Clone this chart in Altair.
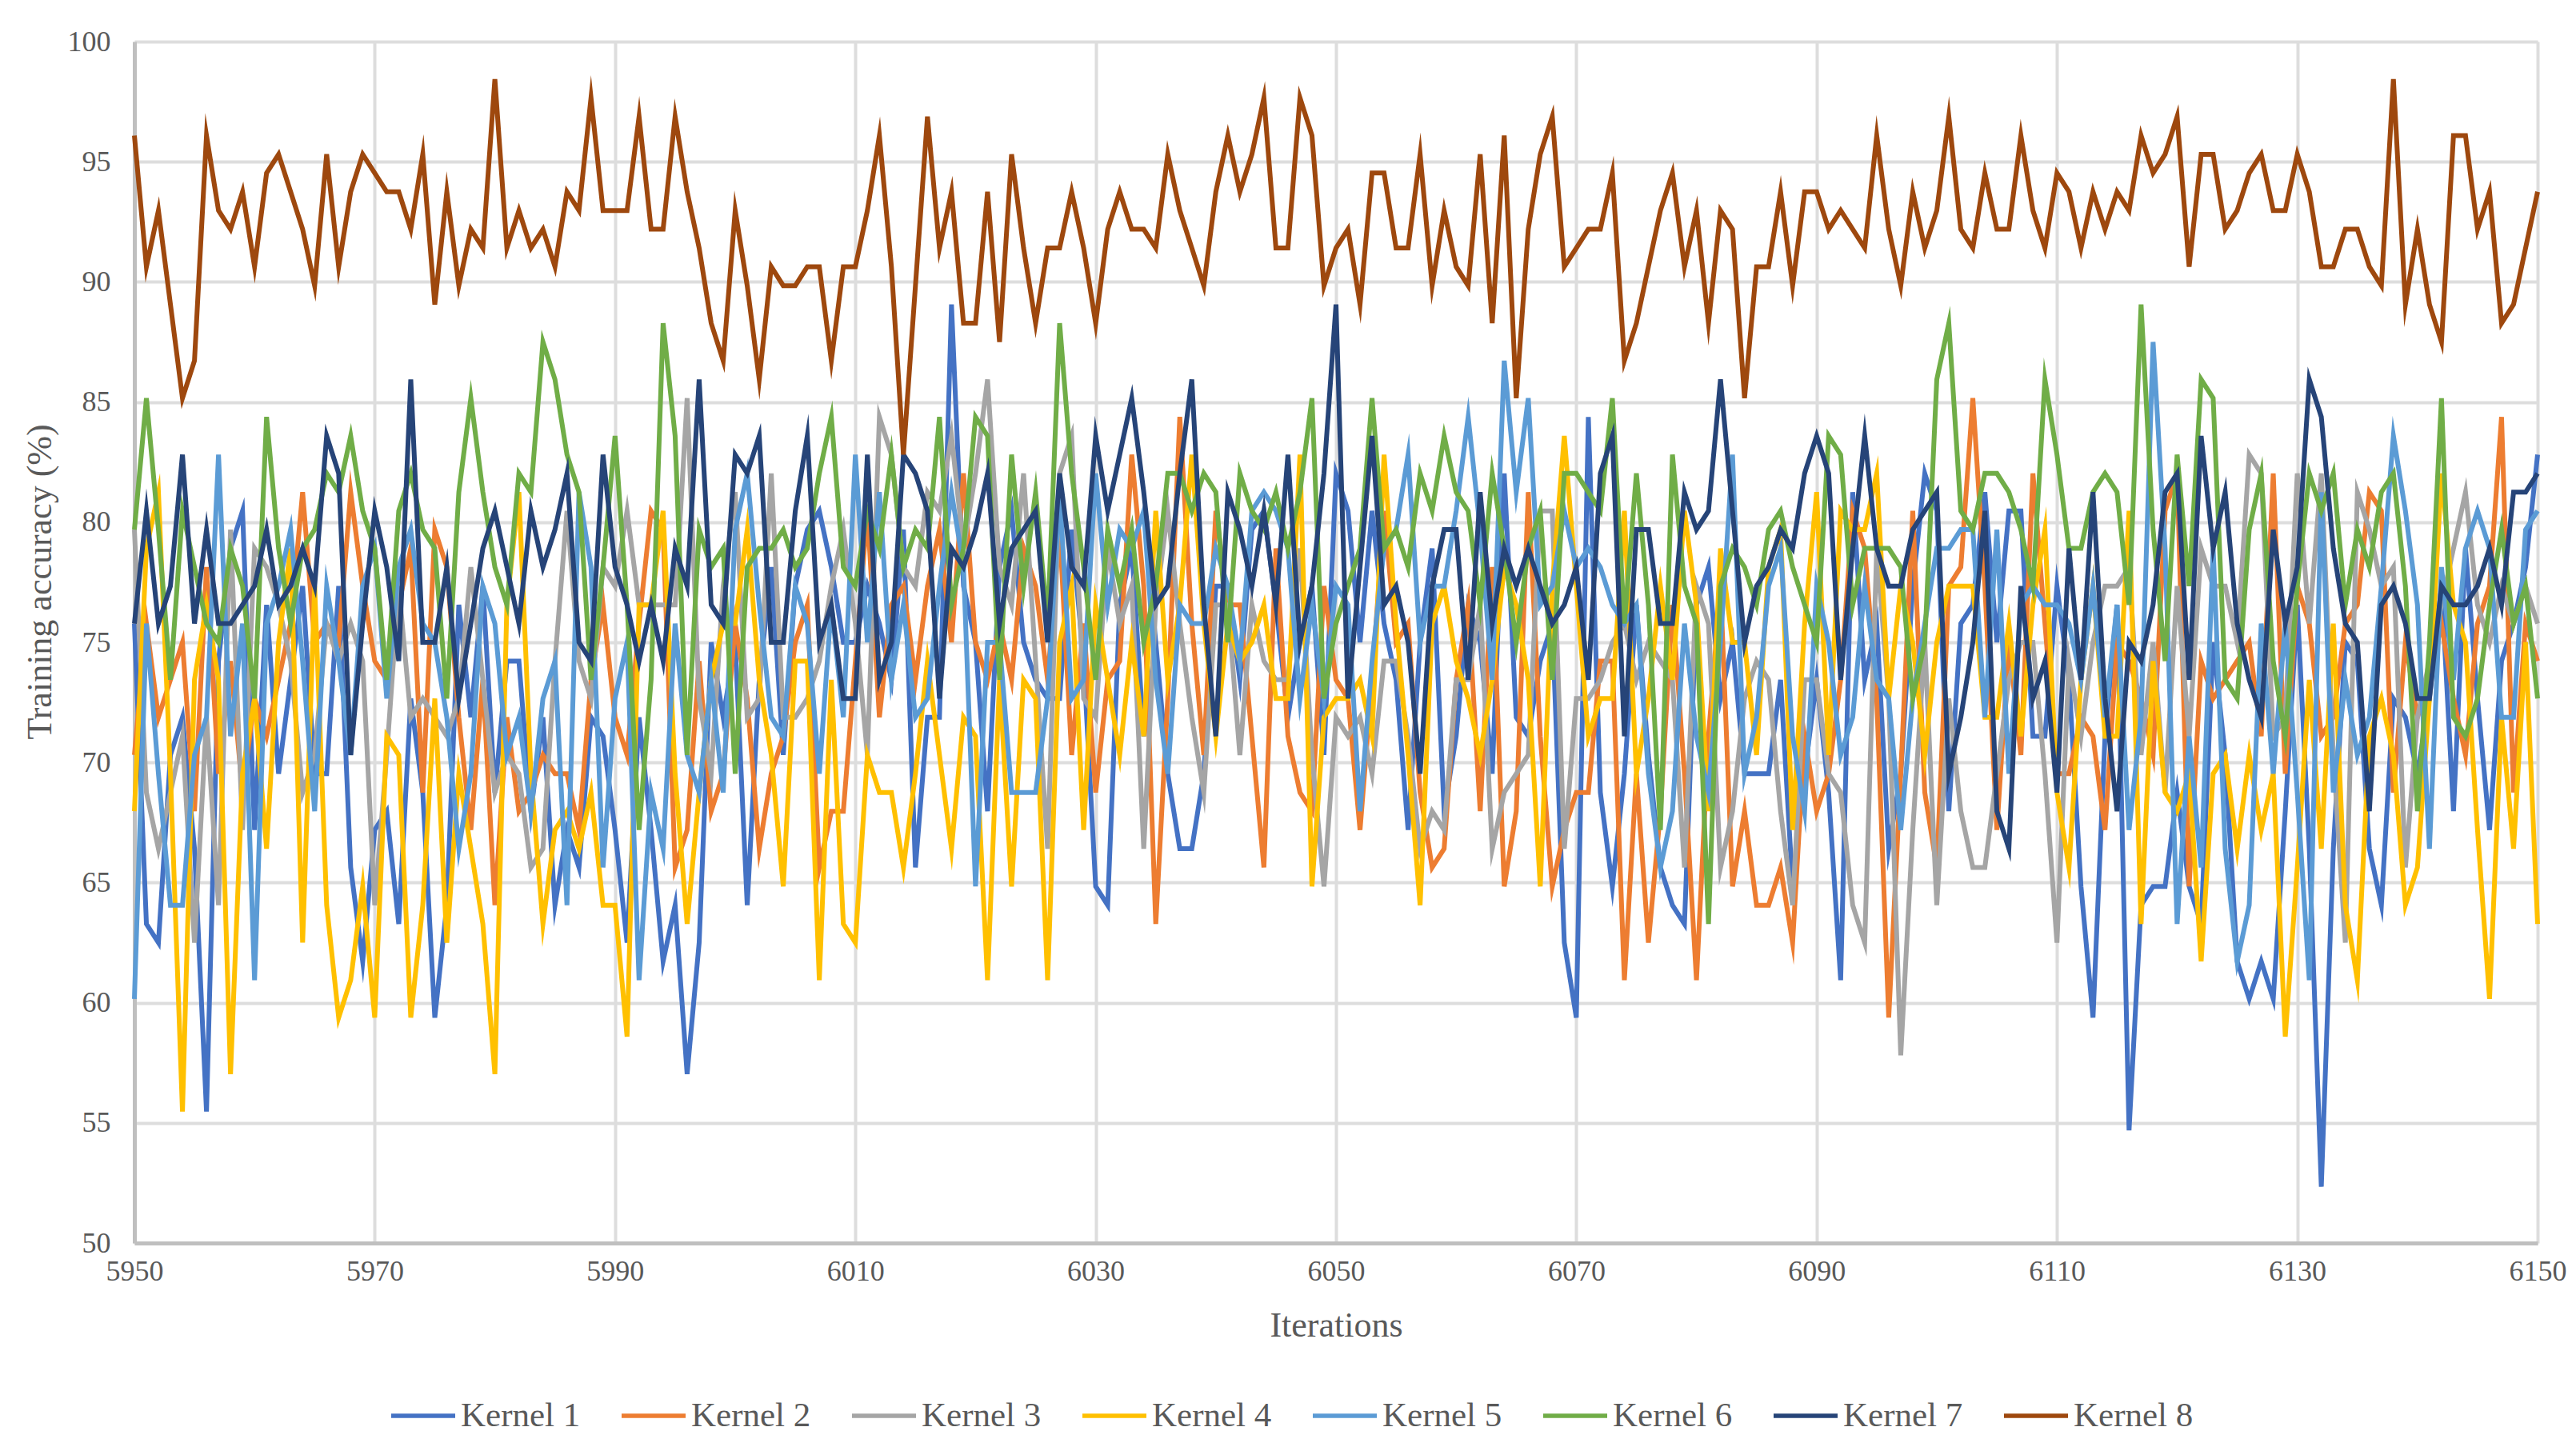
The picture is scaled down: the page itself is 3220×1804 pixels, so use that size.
import altair as alt
import pandas as pd

START = 5950
NAMES = ["Kernel 1", "Kernel 2", "Kernel 3", "Kernel 4", "Kernel 5", "Kernel 6", "Kernel 7", "Kernel 8"]
COLORS = ["#4472C4", "#ED7D31", "#A5A5A5", "#FFC000", "#5B9BD5", "#70AD47", "#264478", "#9E480E"]
X_TICKS = [5950, 5970, 5990, 6010, 6030, 6050, 6070, 6090, 6110, 6130, 6150]
Y_TICKS = [50, 55, 60, 65, 70, 75, 80, 85, 90, 95, 100]

K1 = [75.78,63.28,62.5,70.31,71.88,66.41,55.47,74.22,78.91,80.47,
67.19,76.56,69.53,73.44,77.34,69.53,69.53,77.34,65.63,61.72,
67.19,67.97,63.28,72.66,68.75,59.38,64.06,76.56,71.88,77.34,
68.75,74.22,74.22,67.97,71.88,64.06,67.19,65.63,71.88,71.09,
67.19,62.5,71.88,67.19,61.72,64.06,57.03,62.5,75,71.88,
75,64.06,73.44,78.13,70.31,77.34,79.69,80.47,78.13,75,
75,77.34,75.78,73.44,79.69,65.63,71.88,71.88,89.06,77.34,
75,67.97,78.13,80.47,75,73.44,72.66,72.66,79.69,74.22,
64.84,64.06,76.56,78.91,71.09,75,69.53,66.41,66.41,69.53,
77.34,77.34,73.44,79.69,80.47,76.56,71.88,75,77.34,70.31,
82.03,80.47,75,80.47,75.78,73.44,67.19,75,78.91,67.97,
71.09,76.56,75,69.53,82.03,71.88,71.09,74.22,75.78,62.5,
59.38,84.38,68.75,64.84,69.53,76.56,70.31,65.63,64.06,63.28,
76.56,78.13,72.66,75,69.53,69.53,69.53,73.44,64.84,69.53,
73.44,68.75,60.94,81.25,73.44,75.78,66.41,69.53,77.34,82.03,
80.47,67.97,75.78,76.56,81.25,75,80.47,80.47,71.09,71.09,
77.34,73.44,64.84,59.38,71.09,76.56,54.69,64.06,64.84,64.84,
68.75,64.84,63.28,75,70.31,61.72,60.16,61.72,60.16,67.97,
76.56,66.41,52.34,66.41,75,74.22,66.41,64.06,72.66,71.88,
69.53,72.66,77.34,67.97,78.91,72.66,67.19,74.22,75.78,78.13,82.81]

K2 = [70.31,75.78,71.88,73.44,75,67.97,78.13,69.53,74.22,68.75,
72.66,71.09,73.44,75.78,81.25,75,75.78,75,81.25,77.34,
74.22,73.44,76.56,78.91,68.75,79.69,78.13,71.88,67.19,73.44,
64.06,71.88,67.97,68.75,70.31,69.53,69.53,67.19,73.44,76.56,
71.88,70.31,75.78,80.47,79.69,65.63,67.19,74.22,67.97,69.53,
75.78,72.66,66.41,69.53,71.09,75,76.56,65.63,67.97,67.97,
74.22,80.47,71.88,76.56,77.34,73.44,77.34,79.69,75,82.03,
75,73.44,75.78,73.44,78.91,77.34,73.44,79.69,70.31,75.78,
68.75,73.44,74.22,82.81,77.34,63.28,72.66,84.38,75.78,70.31,
80.47,76.56,76.56,71.09,65.63,78.91,71.09,68.75,67.97,77.34,
73.44,72.66,67.19,73.44,80.47,75,75.78,68.75,65.63,66.41,
73.44,76.56,67.97,78.13,64.84,67.97,81.25,71.09,64.84,67.19,
68.75,68.75,74.22,74.22,60.94,69.53,62.5,67.97,76.56,69.53,
60.94,71.09,77.34,64.84,67.97,64.06,64.06,65.63,62.5,71.09,
67.97,69.53,73.44,80.47,78.91,72.66,59.38,69.53,80.47,68.75,
65.63,77.34,78.13,85.16,77.34,67.19,75,70.31,82.03,75.78,
69.53,69.53,71.88,71.09,67.19,75,74.22,72.66,70.31,80.47,
82.03,64.84,74.22,72.66,73.44,74.22,75,71.09,82.03,69.53,
77.34,75.78,71.09,71.88,75.78,76.56,81.25,80.47,68.75,75,
71.88,73.44,75.78,72.66,70.31,75.78,77.34,84.38,68.75,75.78,74.22]

K3 = [79.69,68.75,66.41,68.75,71.09,62.5,71.88,64.06,79.69,67.19,
78.91,78.13,76.56,74.22,68.75,70.31,75.78,74.22,75.78,74.22,
64.06,70.31,77.34,71.88,72.66,71.88,71.09,72.66,78.13,73.44,
68.75,70.31,69.53,65.63,66.41,74.22,80.47,74.22,72.66,78.13,
77.34,80.47,76.56,76.56,76.56,76.56,85.16,72.66,69.53,77.34,
81.25,71.88,72.66,82.03,71.88,71.88,72.66,74.22,77.34,79.69,
75.78,70.31,84.38,82.81,78.13,77.34,81.25,80.47,83.59,78.91,
82.03,85.94,78.13,76.56,82.03,74.22,66.41,82.03,83.59,72.66,
71.88,78.91,75.78,77.34,66.41,76.56,80.47,75.78,71.88,68.75,
76.56,76.56,70.31,76.56,74.22,73.44,73.44,78.91,70.31,64.84,
71.88,71.09,71.88,69.53,74.22,74.22,71.09,66.41,67.97,67.19,
73.44,73.44,76.56,66.41,68.75,69.53,70.31,80.47,80.47,66.41,
72.66,72.66,73.44,75,75.78,73.44,75,74.22,73.44,65.63,
77.34,75.78,65.63,67.97,72.66,74.22,73.44,67.97,64.06,73.44,
73.44,69.53,68.75,64.06,62.5,78.91,72.66,57.81,67.19,75,
64.06,72.66,67.97,65.63,65.63,69.53,73.44,75,75,69.53,
62.5,74.22,71.09,75,77.34,77.34,78.13,70.31,75,68.75,
77.34,71.09,78.91,77.34,77.34,75,82.81,82.03,71.09,71.88,
82.03,75.78,82.03,70.31,62.5,81.25,79.69,77.34,78.13,65.63,
71.88,74.22,76.56,78.91,81.25,76.56,75,77.34,75.78,77.34,75.78]

K4 = [67.97,78.91,81.25,69.53,55.47,73.44,76.56,73.44,57.03,69.53,
72.66,66.41,75,78.91,62.5,77.34,64.06,59.38,60.94,64.84,
59.38,71.09,70.31,59.38,64.06,72.66,62.5,69.53,66.41,63.28,
57.03,76.56,81.25,69.53,63.28,67.19,67.97,66.41,68.75,64.06,
64.06,58.59,76.56,76.56,80.47,69.53,63.28,68.75,73.44,75.78,
75.78,79.69,73.44,70.31,64.84,74.22,74.22,60.94,73.44,63.28,
62.5,70.31,68.75,68.75,65.63,69.53,74.22,70.31,66.41,71.88,
71.09,60.94,73.44,64.84,73.44,72.66,60.94,75,77.34,67.19,
76.56,73.44,70.31,75,71.09,80.47,73.44,76.56,82.81,75.78,
71.09,75.78,74.22,75,76.56,72.66,72.66,82.81,64.84,71.88,
72.66,72.66,73.44,71.09,82.81,75.78,70.31,64.06,75.78,77.34,
74.22,72.66,70.31,73.44,78.13,76.56,73.44,64.84,77.34,83.59,
77.34,71.09,72.66,72.66,80.47,69.53,72.66,77.34,73.44,80.47,
76.56,67.97,78.91,75,75,70.31,78.13,79.69,67.19,75.78,
81.25,70.31,80.47,79.69,79.69,82.03,72.66,77.34,75,70.31,
75,77.34,77.34,77.34,71.88,71.88,75.78,71.09,76.56,79.69,
68.75,65.63,73.44,77.34,71.09,71.09,80.47,63.28,74.22,68.75,
67.97,69.53,61.72,69.53,70.31,66.41,70.31,67.19,69.53,58.59,
65.63,73.44,66.41,75.78,64.06,60.94,71.09,72.66,70.31,64.06,
65.63,72.66,82.03,76.56,75,67.19,60.16,71.88,66.41,75,63.28]

K5 = [60.16,75.78,69.53,64.06,64.06,70.31,71.88,82.81,71.09,75.78,
60.94,75.78,77.34,79.69,74.22,67.97,77.34,74.22,70.31,77.34,
78.91,72.66,78.13,79.69,75.78,75,71.88,66.41,69.53,77.34,
75.78,70.31,71.88,67.97,72.66,74.22,64.06,81.25,78.13,65.63,
72.66,75,60.94,68.75,66.41,75.78,70.31,68.75,73.44,68.75,
79.69,82.03,76.56,71.88,71.09,77.34,75.78,69.53,76.56,71.88,
82.81,75,81.25,73.44,76.56,71.88,72.66,77.34,81.25,78.13,
64.84,75,75,68.75,68.75,68.75,72.66,81.25,72.66,73.44,
82.03,76.56,79.69,78.91,80.47,73.44,69.53,76.56,75.78,75.78,
78.91,77.34,74.22,80.47,81.25,80.47,78.91,72.66,76.56,72.66,
77.34,76.56,67.97,74.22,78.91,79.69,82.81,75,77.34,77.34,
80.47,84.38,79.69,73.44,86.72,81.25,85.16,76.56,77.34,80.47,
78.13,78.91,78.13,76.56,75.78,76.56,69.53,65.63,67.97,75.78,
71.09,68.75,75,82.81,69.53,71.88,77.34,78.91,71.09,67.97,
77.34,75,70.31,71.88,77.34,73.44,72.66,67.19,72.66,75.78,
78.91,78.91,79.69,79.69,71.88,79.69,69.53,76.56,77.34,76.56,
76.56,75.78,73.44,77.34,71.88,76.56,67.19,71.88,87.5,78.91,
63.28,71.09,65.63,78.91,66.41,61.72,64.06,75.78,69.53,75.78,
68.75,60.94,81.25,68.75,73.44,70.31,71.88,77.34,83.59,80.47,
76.56,66.41,78.13,73.44,78.91,80.47,78.91,71.88,71.88,79.69,80.47]

K6 = [79.69,85.16,79.69,73.44,80.47,78.13,75.78,75,78.91,77.34,
72.66,84.38,78.91,75.78,78.91,79.69,82.03,81.25,83.59,80.47,
78.91,73.44,80.47,82.03,79.69,78.91,72.66,81.25,85.16,81.25,
78.13,76.56,82.03,81.25,87.5,85.94,82.81,81.25,73.44,78.13,
83.59,76.56,67.19,73.44,88.28,83.59,70.31,79.69,78.13,78.91,
69.53,78.13,78.91,78.91,79.69,78.13,78.91,82.03,84.38,78.13,
77.34,80.47,78.91,82.81,78.13,79.69,78.91,84.38,76.56,78.91,
84.38,83.59,73.44,82.81,77.34,81.25,75.78,88.28,82.03,78.13,
73.44,79.69,77.34,79.69,75,77.34,82.03,82.03,80.47,82.03,
81.25,75,82.03,80.47,79.69,81.25,78.91,81.25,85.16,72.66,
75.78,77.34,78.91,85.16,78.91,79.69,78.13,82.03,80.47,83.59,
81.25,80.47,76.56,82.03,78.91,75,78.91,80.47,73.44,82.03,
82.03,81.25,80.47,85.16,75.78,82.03,76.56,67.19,82.81,77.34,
75.78,63.28,77.34,78.91,78.13,76.56,79.69,80.47,78.13,76.56,
75,83.59,82.81,76.56,78.91,78.91,78.91,78.13,72.66,75,
85.94,88.28,80.47,79.69,82.03,82.03,81.25,79.69,77.34,85.94,
82.81,78.91,78.91,81.25,82.03,81.25,76.56,89.06,79.69,74.22,
82.81,77.34,85.94,85.16,73.44,72.66,79.69,82.03,74.22,71.09,
77.34,82.03,80.47,82.03,76.56,79.69,78.13,81.25,82.03,77.34,
67.97,75,85.16,71.88,71.09,72.66,76.56,79.69,75.78,77.34,72.66]

K7 = [75.78,80.47,75.78,77.34,82.81,75.78,79.69,75.78,75.78,76.56,
77.34,79.69,76.56,77.34,78.91,77.34,83.59,82.03,70.31,75.78,
80.47,78.13,74.22,85.94,75,75,78.13,72.66,75.78,78.91,
80.47,78.13,75.78,80.47,78.13,79.69,82.03,75,74.22,82.81,
78.13,76.56,74.22,76.56,74.22,78.91,77.34,85.94,76.56,75.78,
82.81,82.03,83.59,75,75,80.47,83.59,75,76.56,72.66,
72.66,82.81,73.44,75,82.81,82.03,80.47,72.66,78.91,78.13,
79.69,82.03,75.78,78.91,79.69,80.47,75,82.03,78.13,77.34,
83.59,80.47,82.81,85.16,81.25,76.56,77.34,82.03,85.94,76.56,
71.09,81.25,79.69,77.34,80.47,76.56,82.81,75,77.34,82.03,
89.06,72.66,78.13,83.59,76.56,77.34,75,69.53,77.34,79.69,
79.69,73.44,81.25,75.78,78.91,77.34,78.91,77.34,75.78,76.56,
78.13,73.44,82.03,83.59,71.09,79.69,79.69,75.78,75.78,81.25,
79.69,80.47,85.94,80.47,75,77.34,78.13,79.69,78.91,82.03,
83.59,82.03,73.44,78.91,83.59,78.91,77.34,77.34,79.69,80.47,
81.25,69.53,71.88,75,80.47,67.97,66.41,77.34,72.66,74.22,
68.75,78.91,73.44,81.25,72.66,67.97,75,74.22,76.56,81.25,
82.03,73.44,83.59,78.91,81.25,75.78,73.44,71.88,79.69,75.78,
78.13,85.94,84.38,78.91,75.78,75,67.97,76.56,77.34,75.78,
72.66,72.66,77.34,76.56,76.56,77.34,78.91,76.56,81.25,81.25,82.03]

K8 = [96.09,90.63,92.97,89.06,85.16,86.72,96.09,92.97,92.19,93.75,
90.63,94.53,95.31,93.75,92.19,89.84,95.31,90.63,93.75,95.31,
94.53,93.75,93.75,92.19,95.31,89.06,93.75,89.84,92.19,91.41,
98.44,91.41,92.97,91.41,92.19,90.63,93.75,92.97,97.66,92.97,
92.97,92.97,96.88,92.19,92.19,96.88,93.75,91.41,88.28,86.72,
92.97,89.84,85.94,90.63,89.84,89.84,90.63,90.63,86.72,90.63,
90.63,92.97,96.09,90.63,82.81,89.84,96.88,91.41,93.75,88.28,
88.28,93.75,87.5,95.31,91.41,88.28,91.41,91.41,93.75,91.41,
88.28,92.19,93.75,92.19,92.19,91.41,95.31,92.97,91.41,89.84,
93.75,96.09,93.75,95.31,97.66,91.41,91.41,97.66,96.09,89.84,
91.41,92.19,89.06,94.53,94.53,91.41,91.41,95.31,89.84,92.97,
90.63,89.84,95.31,88.28,96.09,85.16,92.19,95.31,96.88,90.63,
91.41,92.19,92.19,94.53,86.72,88.28,90.63,92.97,94.53,90.63,
92.97,88.28,92.97,92.19,85.16,90.63,90.63,93.75,89.84,93.75,
93.75,92.19,92.97,92.19,91.41,96.09,92.19,89.84,93.75,91.41,
92.97,96.88,92.19,91.41,94.53,92.19,92.19,96.09,92.97,91.41,
94.53,93.75,91.41,93.75,92.19,93.75,92.97,96.09,94.53,95.31,
96.88,90.63,95.31,95.31,92.19,92.97,94.53,95.31,92.97,92.97,
95.31,93.75,90.63,90.63,92.19,92.19,90.63,89.84,98.44,89.06,
92.19,89.06,87.5,96.09,96.09,92.19,93.75,88.28,89.06,91.41,93.75]

SERIES = [K1, K2, K3, K4, K5, K6, K7, K8]

rows = []
for name, values in zip(NAMES, SERIES):
    for i, v in enumerate(values):
        rows.append({"Iterations": START + i, "Accuracy": v, "Kernel": name})
df = pd.DataFrame(rows)

FONT = "Liberation Serif"
TXT = "#595959"

chart = (
    alt.Chart(df)
    .mark_line(strokeWidth=6, strokeJoin="miter", strokeMiterLimit=10)
    .encode(
        x=alt.X(
            "Iterations:Q",
            scale=alt.Scale(domain=[5950, 6150], nice=False, zero=False),
            axis=alt.Axis(
                values=X_TICKS, title="Iterations", format="d", ticks=False,
                grid=True, gridColor="#DDDDDD", gridWidth=4,
                domainColor="#BFBFBF", domainWidth=5,
                labelFont=FONT, labelFontSize=36, labelColor=TXT, labelPadding=18,
                titleFont=FONT, titleFontSize=44, titleColor=TXT, titleFontWeight="normal",
                titlePadding=28, labelOverlap=False, labelFlush=False,
            ),
        ),
        y=alt.Y(
            "Accuracy:Q",
            scale=alt.Scale(domain=[50, 100], nice=False, zero=False),
            axis=alt.Axis(
                values=Y_TICKS, title="Training accuracy (%)", ticks=False,
                grid=True, gridColor="#DDDDDD", gridWidth=4,
                domainColor="#BFBFBF", domainWidth=5,
                labelFont=FONT, labelFontSize=36, labelColor=TXT, labelPadding=30,
                titleFont=FONT, titleFontSize=44, titleColor=TXT, titleFontWeight="normal",
                titlePadding=12, titleY=675, labelOverlap=False,
            ),
        ),
        color=alt.Color(
            "Kernel:N",
            scale=alt.Scale(domain=NAMES, range=COLORS),
            legend=alt.Legend(
                orient="none", legendX=318, legendY=1675, direction="horizontal",
                columns=8, title=None, symbolType="stroke", symbolSize=6400,
                symbolStrokeWidth=5.5, labelFont=FONT, labelFontSize=43,
                labelColor=TXT, labelOffset=4, columnPadding=40, labelLimit=300,
            ),
        ),
        order=alt.Order("Iterations:Q"),
    )
    .properties(
        width=3004, height=1502,
        autosize=alt.AutoSizeParams(type="none"),
        padding={"left": 160, "top": 44, "right": 40, "bottom": 242},
    )
    .configure_view(stroke=None)
    .configure(background="white")
)

chart.save("out.html", embed_options={"renderer": "svg", "actions": False})
